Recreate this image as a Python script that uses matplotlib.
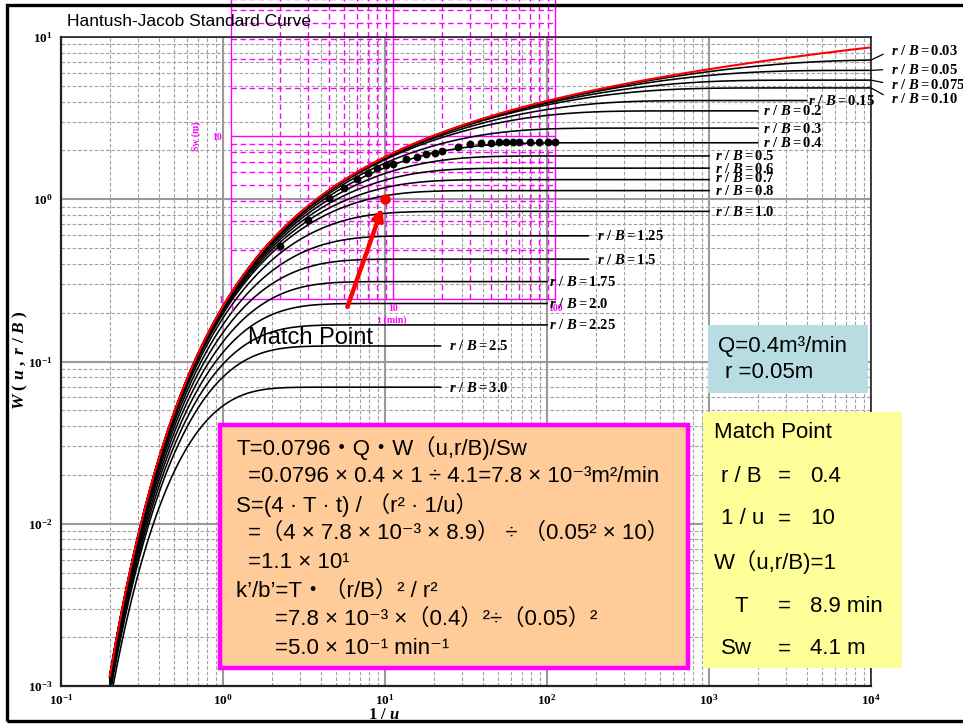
import numpy as np
import matplotlib
matplotlib.use("Agg")
import matplotlib.pyplot as plt
from matplotlib.patches import Rectangle
from matplotlib.ticker import LogLocator, NullFormatter, LogFormatterSciNotation

plt.rcParams['mathtext.fontset'] = 'custom'
plt.rcParams['mathtext.rm'] = 'Liberation Serif:bold'
plt.rcParams['mathtext.it'] = 'Liberation Serif:italic:bold'
plt.rcParams['mathtext.bf'] = 'Liberation Serif:bold'

# ---------------------------------------------------------------- data
# leakage factors r/B of the type-curve family
rB_values = [0.03, 0.05, 0.075, 0.10, 0.15, 0.2, 0.3, 0.4, 0.5, 0.6, 0.7, 0.8,
             1.0, 1.25, 1.5, 1.75, 2.0, 2.25, 2.5, 3.0]
rB_labels = ['0.03', '0.05', '0.075', '0.10', '0.15', '0.2', '0.3', '0.4', '0.5',
             '0.6', '0.7', '0.8', '1.0', '1.25', '1.5', '1.75', '2.0', '2.25',
             '2.5', '3.0']
# 1/u at which each tabulated curve stops
inv_u_end = [1e4, 1e4, 1e4, 1e4, 4000, 2000, 2000, 2000, 1000, 1000, 1000, 1000,
             1000, 180, 180, 100, 100, 100, 22, 22]
inv_u_start = 0.2

# pumping-test drawdown record (time in min, drawdown in m)
t_obs = [2, 3, 4, 5, 6, 7, 8, 9, 10, 12, 14, 16, 18, 20, 25, 30, 35, 40, 45,
         50, 55, 60, 70, 80, 90, 100]
sw_obs = [2.12, 3.05, 4.17, 4.83, 5.49, 5.97, 6.39, 6.67, 6.78, 7.23, 7.52, 7.79,
          7.96, 8.13, 8.64, 9.02, 9.15, 9.15, 9.25, 9.25, 9.25, 9.25, 9.25, 9.25,
          9.25, 9.25]

# match point: (1/u, W) on the type curves  <->  (t, Sw) on the data sheet
match_inv_u, match_W = 10.0, 1.0
match_t, match_sw = 8.9, 4.1

# ------------------------------------------------------- well function
def hantush_W(inv_u, beta):
    """Leaky-aquifer well function W(u, r/B) by quadrature in log space."""
    out = []
    s_hi = np.log(60.0)
    for iu in inv_u:
        s = np.linspace(np.log(1.0 / iu), s_hi, 3000)
        y = np.exp(s)
        f = np.exp(-y - beta ** 2 / (4.0 * y))
        out.append(np.trapezoid(f, s))
    return np.array(out)


def to_curve(t, sw):
    """Place the data sheet on the type-curve sheet via the match point."""
    return (np.asarray(t, float) * match_inv_u / match_t,
            np.asarray(sw, float) * match_W / match_sw)


# ------------------------------------------------------------- figure
W_PX, H_PX = 963, 724
fig = plt.figure(figsize=(W_PX / 100, H_PX / 100), dpi=100)


def fx(px):
    return px / W_PX


def fy(py):
    return 1 - py / H_PX


ax = fig.add_axes([fx(61), fy(686), fx(871) - fx(61), fy(37) - fy(686)])
ax.set_xscale('log')
ax.set_yscale('log')
ax.set_xlim(0.1, 1e4)
ax.set_ylim(1e-3, 10)

ax.xaxis.set_major_locator(LogLocator(base=10, numticks=10))
ax.yaxis.set_major_locator(LogLocator(base=10, numticks=10))
ax.xaxis.set_minor_locator(LogLocator(base=10, subs=np.arange(2, 10), numticks=20))
ax.yaxis.set_minor_locator(LogLocator(base=10, subs=np.arange(2, 10), numticks=20))
ax.xaxis.set_minor_formatter(NullFormatter())
ax.yaxis.set_minor_formatter(NullFormatter())
ax.xaxis.set_major_formatter(LogFormatterSciNotation())
ax.yaxis.set_major_formatter(LogFormatterSciNotation())

ax.grid(which='major', color='#9a9a9a', lw=1.5, ls='-', zorder=0)
ax.grid(which='minor', color='#a0a0a0', lw=0.8, ls=(0, (3.2, 1.8)), zorder=0)
ax.set_axisbelow(True)
ax.tick_params(which='both', direction='in', length=0)
ax.tick_params(axis='y', pad=6)
ax.tick_params(axis='x', pad=5)
for lab in ax.get_xticklabels() + ax.get_yticklabels():
    lab.set_fontfamily('Liberation Serif')
    lab.set_fontweight('bold')
    lab.set_fontsize(9.5)
for sp in ax.spines.values():
    sp.set_color('#222222')
    sp.set_linewidth(1.2)
ax.spines['left'].set_linewidth(1.6)
ax.spines['bottom'].set_linewidth(1.6)

# ----------------------------------------------- magenta data sheet grid
mag = '#ff00ff'
grid_vals = [1, 2, 3, 4, 5, 6, 7, 8, 9, 10, 20, 30, 40, 50, 60, 70, 80, 90, 100]
for v in grid_vals:
    major = v in (1, 10, 100)
    style = '-' if major else (0, (4, 2.5))
    gx, gy = to_curve([v, v], [1, 100])
    ax.plot(gx, gy, color=mag, lw=1.0, ls=style, clip_on=False, zorder=1.5)
    hx, hy = to_curve([1, 100], [v, v])
    ax.plot(hx, hy, color=mag, lw=1.0, ls=style, clip_on=False, zorder=1.5)

mfont = dict(family='Liberation Serif', weight='bold', size=7, color=mag,
             annotation_clip=False, textcoords='offset pixels', ha='center',
             va='center')
ax.annotate('10', to_curve(1, 10), xytext=(-14, -1), **mfont)
ax.annotate('1', to_curve(1, 1), xytext=(-11, -2), **mfont)
ax.annotate('1', to_curve(1, 1), xytext=(0, -11), **mfont)
ax.annotate('10', to_curve(10, 1), xytext=(0, -10), **mfont)
ax.annotate('100', to_curve(100, 1), xytext=(0, -10), **mfont)
ax.annotate('t (min)', to_curve(10, 1), xytext=(-1, -22), **mfont)
ax.annotate('Sw (m)', to_curve(1, 10), xytext=(-35, 0), rotation=90, **mfont)

# ---------------------------------------------------------- type curves
label_dx = {'0.03': 20, '0.05': 20, '0.075': 20, '0.10': 20, '0.15': 1,
            '0.2': 5, '0.3': 5, '0.4': 5, '0.5': 6, '0.6': 6, '0.7': 6, '0.8': 6,
            '1.0': 6, '1.25': 9, '1.5': 9, '1.75': 2, '2.0': 2, '2.25': 2,
            '2.5': 9, '3.0': 9}
label_dy = {'0.03': 9.5, '0.05': 1, '0.075': -4, '0.10': -11, '0.7': 2.5}
leader = {'0.03', '0.05', '0.075', '0.10'}

for beta, lab, end in zip(rB_values, rB_labels, inv_u_end):
    iu = np.logspace(np.log10(inv_u_start), np.log10(end), 260)
    w = hantush_W(iu, beta)
    ax.plot(iu, w, color='black', lw=1.15, zorder=2)
    kw = dict(xy=(iu[-1], w[-1]), xytext=(label_dx[lab], label_dy.get(lab, 0)),
              textcoords='offset pixels', ha='left', va='center', fontsize=10.5,
              annotation_clip=False, zorder=4)
    if lab in leader:
        kw['arrowprops'] = dict(arrowstyle='-', color='black', lw=0.9,
                                shrinkA=4, shrinkB=0, relpos=(0, 0.5))
    ax.annotate(r'$r\ /\ B = %s$' % lab, **kw)

# Theis curve (r/B -> 0)
iu_t = np.logspace(np.log10(inv_u_start), 4, 300)
ax.plot(iu_t, hantush_W(iu_t, 0.0), color='red', lw=1.5, zorder=2.5)

# observed drawdowns and match point
ox, oy = to_curve(t_obs, sw_obs)
ax.plot(ox, oy, 'o', color='black', ms=4.6, zorder=3)
ax.plot([match_inv_u], [match_W], 'o', color='red', ms=6.5, zorder=3)
ax.annotate('', xy=(9.6, 0.88), xytext=(5.86, 0.217),
            arrowprops=dict(arrowstyle='-|>', color='red', lw=3.2,
                            mutation_scale=16, shrinkA=0, shrinkB=0), zorder=3)

# ------------------------------------------------------------ axis text
fig.text(fx(384), fy(714), r'$1\ /\ u$', ha='center', va='center', fontsize=12)
fig.text(fx(20), fy(360), r'$W\ (\ u\ ,\ r\ /\ B\ )$', ha='center', va='center',
         rotation=90, fontsize=12.5)
fig.text(fx(67), fy(22), 'Hantush-Jacob Standard Curve', family='Liberation Sans',
         fontsize=12.5, ha='left', va='center')
fig.text(fx(248), fy(338), 'Match Point', family='Liberation Sans', fontsize=17,
         ha='left', va='center')

# outer frame
fig.add_artist(Rectangle((fx(7), fy(721)), fx(990) - fx(7), fy(5) - fy(721),
                         fill=False, ec='black', lw=2.4, transform=fig.transFigure))

# ---------------------------------------------------------------- boxes
sans = ['Liberation Sans', 'Noto Sans CJK JP', 'DejaVu Sans']
BOX_FS = 16

fig.add_artist(Rectangle((fx(220), fy(668)), fx(688) - fx(220), fy(425) - fy(668),
                         fc='#ffcc99', ec=mag, lw=3.2, transform=fig.transFigure,
                         zorder=5))
calc_lines = [
    (236, 448, 'T=0.0796・Q・W（u,r/B)/Sw'),
    (248, 477, '=0.0796 × 0.4 × 1 ÷ 4.1=7.8 × 10⁻³m²/min'),
    (236, 505, 'S=(4 · T · t) / （r² · 1/u）'),
    (248, 533, '=（4 × 7.8 × 10⁻³ × 8.9） ÷ （0.05² × 10）'),
    (248, 562, '=1.1 × 10¹'),
    (236, 591, 'k’/b’=T・（r/B）² / r²'),
    (275, 619, '=7.8 × 10⁻³ ×（0.4）²÷（0.05）²'),
    (275, 648, '=5.0 × 10⁻¹ min⁻¹'),
]
for x, y, s in calc_lines:
    fig.text(fx(x), fy(y), s, family=sans, fontsize=BOX_FS, ha='left',
             va='center', zorder=6)

fig.add_artist(Rectangle((fx(708), fy(393)), fx(868) - fx(708), fy(325) - fy(393),
                         fc='#b7dde3', ec='none', transform=fig.transFigure, zorder=5))
fig.text(fx(718), fy(346), 'Q=0.4m³/min', family=sans, fontsize=BOX_FS,
         ha='left', va='center', zorder=6)
fig.text(fx(725), fy(373), 'r =0.05m', family=sans, fontsize=BOX_FS, ha='left',
         va='center', zorder=6)

fig.add_artist(Rectangle((fx(703), fy(668)), fx(902) - fx(703), fy(412) - fy(668),
                         fc='#ffff99', ec='none', transform=fig.transFigure, zorder=5))
match_rows = [
    (714, 432, 'Match Point', None, None),
    (721, 476, 'r / B', '=', '0.4'),
    (721, 519, '1 / u', '=', '10'),
    (714, 562, 'W（u,r/B)=1', None, None),
    (734, 606, 'T', '=', '8.9 min'),
    (721, 649, 'Sw', '=', '4.1 m'),
]
for x, y, left, eq, val in match_rows:
    fig.text(fx(x), fy(y), left, family=sans, fontsize=BOX_FS, ha='left',
             va='center', zorder=6)
    if eq:
        fig.text(fx(784), fy(y), eq, family=sans, fontsize=BOX_FS, ha='center',
                 va='center', zorder=6)
        fig.text(fx(810), fy(y), val, family=sans, fontsize=BOX_FS, ha='left',
                 va='center', zorder=6)

fig.savefig('out.png', dpi=100)
